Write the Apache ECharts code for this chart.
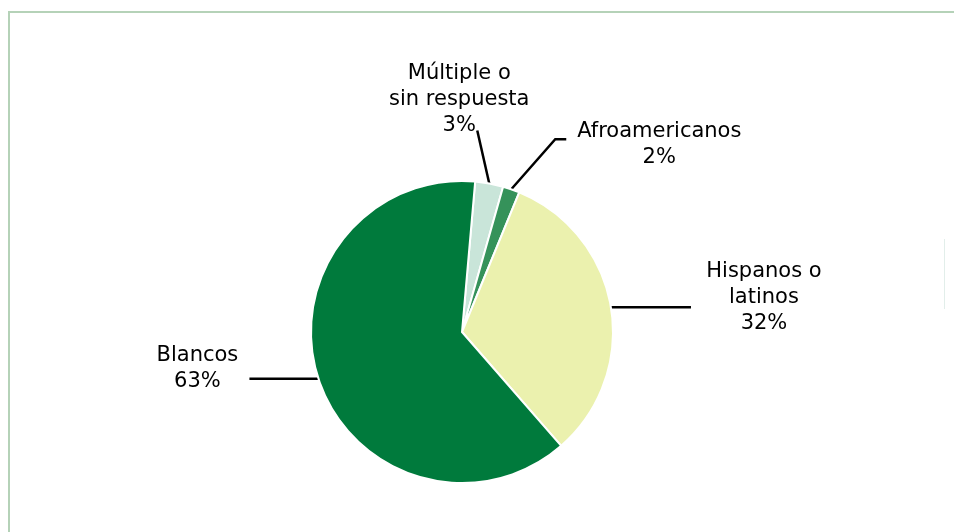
<!DOCTYPE html>
<html>
<head>
<meta charset="utf-8">
<script src="https://cdn.jsdelivr.net/npm/echarts@6/dist/echarts.min.js"></script>
<style>
  html, body { margin: 0; padding: 0; background: #fff; }
  #frame { position: absolute; left: 8px; top: 11px; width: 946px; height: 521px;
           border-top: 2px solid #b5d2b8; border-left: 2px solid #b5d2b8; box-sizing: border-box; }
  #artifact { position: absolute; left: 944px; top: 239px; width: 1px; height: 70px; background: #e2eeea; }
  #chart { position: absolute; left: 0; top: 0; width: 954px; height: 532px; }
</style>
</head>
<body>
<div id="frame"></div>
<div id="artifact"></div>
<div id="chart"></div>
<script>
// Data (clockwise from the top)
const categories = ['Múltiple o\nsin respuesta', 'Afroamericanos', 'Hispanos o\nlatinos', 'Blancos'];
const shares = [3.0, 1.8, 32.4, 62.8];
const sliceColors = ['#c9e5d9', '#35925a', '#ebf1ae', '#007a3c'];

// label placement offsets relative to the slice edge point (style only)
const labelOffsets = [
  { bend: null,      end: [-12, -53], label: [-30, -84] },
  { bend: [44, -50], end: [55, -50],  label: [148, -45] },
  { bend: null,      end: [80, 0],    label: [153, -10] },
  { bend: null,      end: [-69, 0],   label: [-121, -10] }
];

const chart = echarts.init(document.getElementById('chart'), null, { renderer: 'canvas' });
const total = shares.reduce((a, b) => a + b, 0);

chart.setOption({
  animation: false,
  series: [{
    type: 'pie',
    center: [462, 332],
    radius: [0, 151],
    startAngle: 85,
    clockwise: true,
    avoidLabelOverlap: false,
    data: categories.map((c, i) => ({ name: c, value: shares[i], itemStyle: { color: sliceColors[i] } })),
    itemStyle: { borderColor: '#ffffff', borderWidth: 2 },
    label: {
      show: true,
      position: 'outside',
      fontFamily: 'DejaVu Sans',
      fontSize: 21,
      lineHeight: 26,
      color: '#000000',
      align: 'center',
      formatter: p => p.name + '\n' + Math.round(p.value / total * 100) + '%'
    },
    labelLine: { show: true, length: 2, length2: 2, smooth: false,
                 lineStyle: { color: '#000000', width: 2.5 } },
    emphasis: { disabled: true },
    labelLayout: function (p) {
      const pts = p.labelLinePoints;
      if (!pts) return {};
      const s = pts[0];
      const o = labelOffsets[p.dataIndex];
      const line = [[s[0], s[1]]];
      if (o.bend) line.push([s[0] + o.bend[0], s[1] + o.bend[1]]);
      else line.push([s[0] + (o.end[0]) * 0.5, s[1] + o.end[1] * 0.5]);
      line.push([s[0] + o.end[0], s[1] + o.end[1]]);
      return {
        x: s[0] + o.label[0],
        y: s[1] + o.label[1],
        align: 'center',
        verticalAlign: 'middle',
        labelLinePoints: line
      };
    }
  }]
});
</script>
</body>
</html>
